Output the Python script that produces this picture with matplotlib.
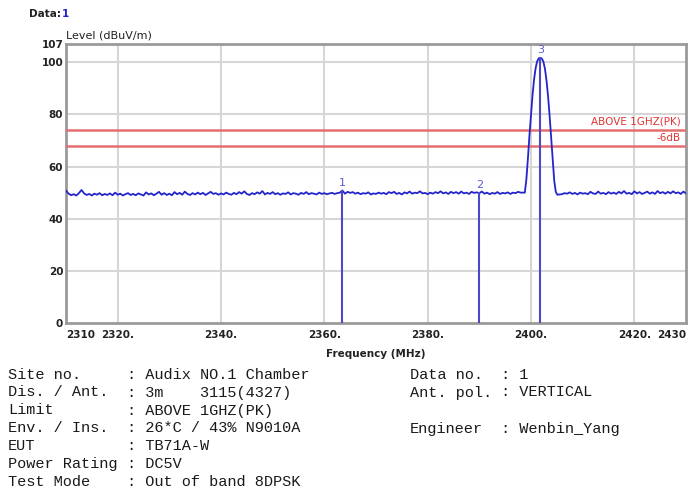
import numpy as np
import matplotlib
matplotlib.use('Agg')
import matplotlib.pyplot as plt

# niveau du bruit de fond, pas de 0.5 MHz a partir de 2310 MHz
floor_left = [
    50.8, 49.6, 49.0, 49.4, 48.9, 49.8, 51.0, 49.7, 49.1, 49.5,
    48.9, 49.6, 49.2, 49.8, 49.0, 49.5, 49.1, 49.7, 49.0, 50.0,
    49.2, 49.6, 48.9, 49.4, 49.8, 49.1, 49.5, 49.0, 49.7, 49.3,
    48.9, 50.1, 49.3, 49.7, 49.0, 49.6, 50.3, 49.2, 49.8, 49.1,
    49.6, 49.0, 50.2, 49.4, 49.9, 49.2, 50.4, 49.5, 49.1, 49.8,
    49.3, 50.0, 49.4, 49.9, 49.1, 49.7, 50.3, 49.5, 49.8, 49.2,
    49.7, 49.3, 50.0, 49.5, 49.2, 49.9, 49.4, 50.2, 49.6, 50.5,
    49.5, 49.1, 49.8, 49.4, 50.1, 49.6, 50.6, 49.3, 49.9, 49.5,
    50.2, 49.4, 49.8, 49.2, 49.7, 49.5, 50.1, 49.3, 49.8, 49.6,
    49.2, 49.9, 49.5, 50.2, 49.4, 49.8, 49.6, 49.3, 50.0, 49.5,
    49.8, 49.4, 49.7, 49.9, 49.5, 49.8, 50.0, 50.8, 49.6, 50.3,
    49.9, 50.2, 49.6, 50.0, 49.4, 49.8, 49.6, 50.1, 49.3, 49.7,
    49.5, 50.0, 49.6, 49.9, 49.4, 50.2, 49.8, 50.3, 49.5, 49.9,
    49.3, 50.1, 49.7, 50.4, 49.6, 50.0, 49.8, 50.5, 49.7, 49.9,
    49.4, 50.0, 49.6, 50.2, 49.8, 50.5, 49.7, 50.1, 49.5, 50.3,
    49.8, 50.2, 49.6, 50.4, 49.7, 50.0, 49.5, 50.3, 49.9, 50.1,
    49.8, 50.4, 49.6, 50.0, 49.4, 49.9, 49.6, 50.2, 49.5, 49.9,
    49.7, 50.1, 49.5, 50.0, 49.8, 50.3, 50.0,
]
# raie a 2402 MHz
peak_freq = [2398.8, 2399.1, 2399.4, 2399.7, 2400.0, 2400.3, 2400.6, 2400.9,
             2401.2, 2401.5, 2401.8, 2402.1, 2402.4, 2402.7, 2403.0, 2403.3,
             2403.6, 2403.9, 2404.2, 2404.5, 2404.8, 2405.1]
peak_level = [50.0, 55.0, 63.0, 72.0, 80.0, 87.5, 93.5, 97.8,
              100.4, 101.5, 101.7, 101.4, 100.2, 97.5, 93.0, 87.0,
              79.5, 71.0, 62.0, 54.5, 50.3, 49.2]
# bruit de fond a droite, de 2406 a 2430 MHz
floor_right = [
    49.4, 49.8, 49.6, 50.1, 49.5, 49.9, 49.3, 50.0, 49.6, 49.8,
    49.4, 50.3, 49.7, 49.5, 50.4, 49.6, 49.9, 49.4, 50.2, 49.6,
    50.0, 49.5, 50.3, 49.7, 50.6, 49.6, 49.9, 49.4, 50.5, 49.7,
    50.2, 49.5, 49.9, 50.4, 49.6, 50.1, 49.5, 50.6, 49.8, 50.2,
    49.6, 50.3, 49.7, 50.5, 49.8, 50.1, 49.5, 50.4, 49.7,
]
step = 0.5

marker_freq = [2363.4, 2390.0, 2401.8]
marker_level = [50.6, 49.8, 101.7]
marker_names = ['1', '2', '3']

limit_pk = 74
limit_6db = 68

x_ticks = [2310, 2320, 2340, 2360, 2380, 2400, 2420, 2430]
x_labels = ['2310', '2320.', '2340.', '2360.', '2380.', '2400.', '2420.', '2430']
y_ticks = [0, 20, 40, 60, 80, 100, 107]

info_left = [('Site no.', ': Audix NO.1 Chamber'),
             ('Dis. / Ant.', ': 3m    3115(4327)'),
             ('Limit', ': ABOVE 1GHZ(PK)'),
             ('Env. / Ins.', ': 26*C / 43% N9010A'),
             ('EUT', ': TB71A-W'),
             ('Power Rating', ': DC5V'),
             ('Test Mode', ': Out of band 8DPSK')]
info_right = [(0, 'Data no.', ': 1'),
              (1, 'Ant. pol.', ': VERTICAL'),
              (3, 'Engineer', ': Wenbin_Yang')]

W, H = 699, 493
fig = plt.figure(figsize=(W / 100, H / 100), dpi=100)
ax = fig.add_axes([66 / W, 1 - 323 / H, 620 / W, 279 / H])

freq = np.concatenate([2310 + step * np.arange(len(floor_left)), peak_freq,
                       2406 + step * np.arange(len(floor_right))])
level = np.concatenate([floor_left, peak_level, floor_right])

ax.plot(freq, level, color='#2424cc', lw=1.3, zorder=4)
ax.axhline(limit_pk, color='#e56f6f', lw=1.8, zorder=3)
ax.axhline(limit_6db, color='#e56f6f', lw=1.8, zorder=3)

for f, l, n in zip(marker_freq, marker_level, marker_names):
    ax.plot([f, f], [0, l], color='#4a4ac8', lw=1.5, zorder=5)
    ax.annotate(n, (f, l), xytext=(0, 2), textcoords='offset points',
                ha='center', va='bottom', color='#5a5ad0', fontsize=8)

ax.text(2429, limit_pk + 1.2, 'ABOVE 1GHZ(PK)', color='#e03535', fontsize=7.5,
        ha='right', va='bottom')
ax.text(2429, limit_6db + 1.2, '-6dB', color='#e03535', fontsize=7.5,
        ha='right', va='bottom')

ax.set_xlim(2310, 2430)
ax.set_ylim(0, 107)
ax.set_xticks(x_ticks)
ax.set_xticklabels(x_labels, fontsize=7.5, fontweight='bold', color='#222222')
ax.get_xticklabels()[0].set_ha('left')
ax.get_xticklabels()[-1].set_ha('right')
ax.set_yticks(y_ticks)
ax.set_yticklabels([str(v) for v in y_ticks], fontsize=7.5, fontweight='bold',
                   color='#222222')
ax.tick_params(axis='x', length=0, pad=5)
ax.tick_params(axis='y', length=0, pad=2)

for v in [2320, 2340, 2360, 2380, 2400, 2420]:
    ax.axvline(v, color='#d6d6d6', lw=1.5, zorder=1)
for v in [20, 40, 60, 80, 100]:
    ax.axhline(v, color='#d6d6d6', lw=1.5, zorder=1)

for s in ax.spines.values():
    s.set_color('#9a9a9a')
    s.set_linewidth(2)

fig.text(29 / W, 1 - 14 / H, 'Data:', fontsize=7.5, fontweight='bold',
         color='#222222', va='center')
fig.text(62 / W, 1 - 14 / H, '1', fontsize=7.5, fontweight='bold',
         color='#2020cc', va='center')
fig.text(66 / W, 1 - 35 / H, 'Level (dBuV/m)', fontsize=8, color='#222222',
         va='center')
fig.text(376 / W, 1 - 354 / H, 'Frequency (MHz)', fontsize=7.5,
         fontweight='bold', color='#222222', ha='center', va='center')

row_y = [375, 392.5, 410.5, 428.5, 446, 464, 482]
mono = dict(family='Liberation Mono', fontsize=11, color='#1a1a1a', va='center')
for i, (lab, val) in enumerate(info_left):
    fig.text(8 / W, 1 - row_y[i] / H, lab, **mono)
    fig.text(127 / W, 1 - row_y[i] / H, val, **mono)
for i, lab, val in info_right:
    fig.text(410 / W, 1 - row_y[i] / H, lab, **mono)
    fig.text(501 / W, 1 - row_y[i] / H, val, **mono)

fig.savefig('out.png', dpi=100)
